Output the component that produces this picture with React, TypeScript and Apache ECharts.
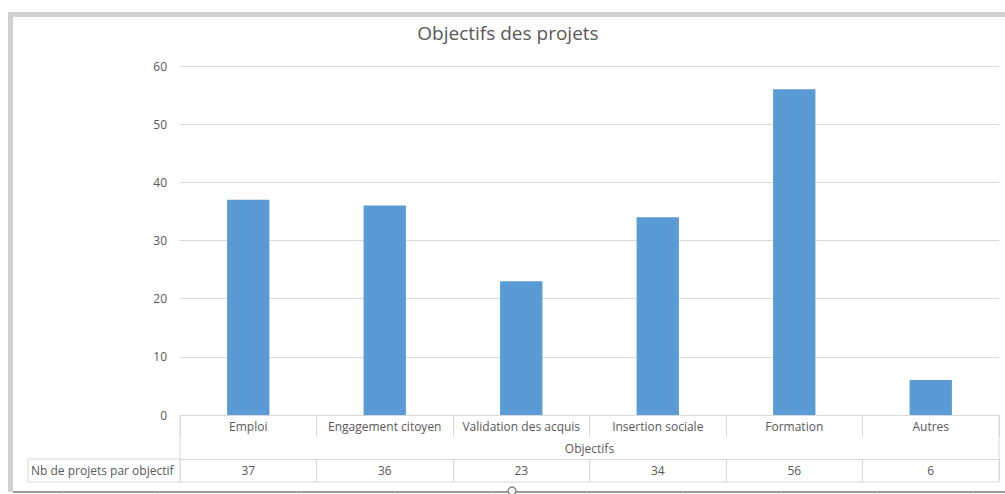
import React, { useEffect, useRef } from "react";
import * as echarts from "echarts";

const title = "Objectifs des projets";
const categories = ["Emploi", "Engagement citoyen", "Validation des acquis", "Insertion sociale", "Formation", "Autres"];
const values = [37, 36, 23, 34, 56, 6];
const seriesName = "Nb de projets par objectif";
const axisName = "Objectifs";
const yTicks = { min: 0, max: 60, interval: 10 };
const sheetColumnEdges = [63, 158, 298, 395, 492, 587, 683, 781, 877, 973];

const W = 1005;
const H = 494;
const GL = 180;
const GR = 999;
const GT = 66;
const GB = 415;
const FONT = "'Open Sans', 'Noto Sans', sans-serif";
const TXT = "#595959";
const LINE = "#d9d9d9";

export default function App() {
  const ref = useRef<HTMLDivElement>(null);
  useEffect(() => {
    document.body.style.margin = "0";
    const chart = echarts.init(ref.current!, undefined, { renderer: "svg" });
    const ls = { stroke: LINE, lineWidth: 1 };
    const graphics: any[] = [
      // outer frame (gray)
      { type: "rect", shape: { x: 8, y: 12, width: W, height: 5 }, style: { fill: "#d0d0d0" }, silent: true },
      { type: "rect", shape: { x: 8, y: 12, width: 5, height: 480 }, style: { fill: "#d0d0d0" }, silent: true },
      // table lines
      { type: "line", shape: { x1: 28, y1: 459, x2: GL, y2: 459 }, style: ls },
      { type: "line", shape: { x1: 28, y1: 482, x2: GR, y2: 482 }, style: ls },
      { type: "line", shape: { x1: 28, y1: 459, x2: 28, y2: 482 }, style: ls },
      { type: "line", shape: { x1: GL, y1: 415, x2: GL, y2: 482 }, style: ls },
      { type: "line", shape: { x1: GR, y1: 415, x2: GR, y2: 482 }, style: ls },
      {
        type: "text",
        style: { x: 31, y: 470, text: seriesName, fill: TXT, font: `12px ${FONT}`, textVerticalAlign: "middle" },
      },
      {
        type: "text",
        style: { x: (GL + GR) / 2, y: 448, text: axisName, fill: TXT, font: `12px ${FONT}`, textAlign: "center", textVerticalAlign: "middle" },
      },
      {
        type: "text",
        style: { x: 508, y: 33, text: title, fill: TXT, font: `19px ${FONT}`, textAlign: "center", textVerticalAlign: "middle" },
      },
      // sheet bottom line with handle
      { type: "line", shape: { x1: 13, y1: 492, x2: W, y2: 492 }, style: { stroke: "#9a9a9a", lineWidth: 2 } },
      ...sheetColumnEdges.map((x) => ({ type: "line", shape: { x1: x, y1: 492, x2: x, y2: 494 }, style: { stroke: "#c8c8c8", lineWidth: 1 } })),
      { type: "circle", shape: { cx: 512, cy: 491, r: 4 }, style: { fill: "#fff", stroke: "#8a8a8a", lineWidth: 1.5 } },
    ];
    chart.setOption({
      animation: false,
      textStyle: { fontFamily: FONT },
      grid: { left: GL, right: W - GR, top: GT, bottom: H - GB, containLabel: false },
      xAxis: [
        {
          type: "category",
          data: categories,
          axisLine: { lineStyle: { color: LINE } },
          axisTick: { show: true, length: 22, lineStyle: { color: LINE } },
          axisLabel: { color: TXT, fontSize: 12, margin: 5, interval: 0, fontFamily: FONT },
        },
        {
          type: "category",
          data: values.map((v) => String(v)),
          position: "bottom",
          offset: 44,
          axisLine: { lineStyle: { color: LINE } },
          axisTick: { show: true, length: 23, lineStyle: { color: LINE } },
          axisLabel: { color: TXT, fontSize: 12, margin: 5, interval: 0, fontFamily: FONT },
        },
      ],
      yAxis: {
        type: "value",
        min: yTicks.min,
        max: yTicks.max,
        interval: yTicks.interval,
        axisLine: { show: false },
        axisTick: { show: false },
        splitLine: { lineStyle: { color: LINE } },
        axisLabel: { color: TXT, fontSize: 12, margin: 13, fontFamily: FONT },
      },
      series: [
        {
          name: seriesName,
          type: "bar",
          data: values,
          barWidth: "31%",
          itemStyle: { color: "#5B9BD5" },
        },
      ],
      graphic: graphics,
    });
    return () => chart.dispose();
  }, []);
  return <div ref={ref} style={{ position: "absolute", left: 0, top: 0, width: W, height: H }} />;
}
